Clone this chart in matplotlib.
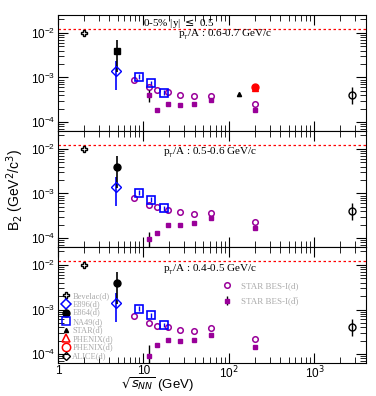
import numpy as np
import matplotlib.pyplot as plt
from matplotlib.ticker import LogLocator, NullFormatter

# collision energies
bes_x = [7.7, 11.5, 14.5, 19.6, 27, 39, 62.4, 200]
bes_xbar = [11.5, 14.5, 19.6, 27, 39, 62.4, 200]
na49_x = [8.8, 12.3, 17.3]

titles = ['p$_{_T}$/A : 0.6-0.7 GeV/c', 'p$_{_T}$/A : 0.5-0.6 GeV/c', 'p$_{_T}$/A : 0.4-0.5 GeV/c']

# STAR BES-I d and dbar per pT bin (top to bottom)
bes_d = [[8.8e-4, 6.0e-4, 5.3e-4, 4.7e-4, 4.0e-4, 3.8e-4, 3.9e-4, 2.5e-4],
         [7.8e-4, 5.5e-4, 4.9e-4, 4.3e-4, 3.8e-4, 3.5e-4, 3.7e-4, 2.3e-4],
         [7.0e-4, 5.0e-4, 4.3e-4, 4.1e-4, 3.5e-4, 3.3e-4, 3.9e-4, 2.2e-4]]
bes_dbar = [[4.0e-4, 1.9e-4, 2.6e-4, 2.4e-4, 2.5e-4, 3.1e-4, 1.9e-4],
            [9.5e-5, 1.3e-4, 2.0e-4, 2.0e-4, 2.2e-4, 2.8e-4, 1.7e-4],
            [9.0e-5, 1.6e-4, 2.1e-4, 2.0e-4, 2.1e-4, 2.7e-4, 1.45e-4]]
bes_dbar_err = [[1.2e-4, 0, 0, 0, 0, 0, 0],
                [4.5e-5, 0, 0, 0, 0, 0, 0],
                [7.0e-5, 0, 0, 0, 0, 0, 0]]

na49_d = [[1.05e-3, 7.5e-4, 4.6e-4],
          [1.05e-3, 7.3e-4, 4.7e-4],
          [1.05e-3, 7.5e-4, 4.5e-4]]

bevelac = [2.0, 1.0e-2]
e864 = [4.9, 4.0e-3, 3.0e-3, 2.7e-3]       # x, y, err up, err down
e896 = [4.8, 1.4e-3, 9.0e-4, 8.7e-4]
alice = [2760, 4.0e-4, 2.0e-4, 1.5e-4]
star_dbar = [130, 4.2e-4]
phenix_d = [200, 5.8e-4]
phenix_dbar = [200, 6.0e-4]

purple = '#990099'
grey = '#aaaaaa'
dbar = 'd\u0305'

fig = plt.figure(figsize=(3.76, 3.96), dpi=100)
lefts = 0.154
w = 0.819
h = 0.293
bottoms = [0.669, 0.376, 0.083]
title_pos = [(0.39, 0.83), (0.34, 0.81), (0.34, 0.80)]
axes = []
for i in range(3):
    ax = fig.add_axes([lefts, bottoms[i], w, h])
    axes.append(ax)
    ax.set_xscale('log')
    ax.set_yscale('log')
    ax.set_xlim(1, 4000)
    ax.set_ylim(6.3e-5, 2.5e-2)
    ax.axhline(1.2e-2, color='red', ls=(0, (2, 2)), lw=0.9)

    hb, = ax.plot(bevelac[0], bevelac[1], marker='P', mfc='none', mec='k', ms=5, ls='none')
    ax.errorbar(e896[0], e896[1], yerr=[[e896[3]], [e896[2]]], marker='D', mfc='none', mec='b',
                color='b', ms=5, ls='none', elinewidth=1.2)
    ax.errorbar(e864[0], e864[1], yerr=[[e864[3]], [e864[2]]], marker='s' if i == 0 else 'o',
                color='k', ms=5, ls='none', elinewidth=1.2)
    ax.errorbar(na49_x, na49_d[i], yerr=[v * 0.12 for v in na49_d[i]], marker='s', mfc='none',
                mec='b', color='b', ms=6, mew=1.2, ls='none', elinewidth=1)
    if i == 0:
        ax.plot(star_dbar[0], star_dbar[1], marker='^', color='k', ms=3, ls='none')
        ax.plot(phenix_d[0], phenix_d[1], marker='^', mfc='red', mec='red', ms=5, ls='none')
        ax.plot(phenix_dbar[0], phenix_dbar[1], marker='o', mfc='red', mec='red', ms=5, ls='none')
    ax.errorbar(alice[0], alice[1], yerr=[[alice[3]], [alice[2]]], marker='o', mfc='none', mec='k',
                color='k', ms=5, ls='none', elinewidth=1)

    h_d, = ax.plot(bes_x, bes_d[i], marker='o', mfc='none', mec=purple, ms=4, mew=1.1, ls='none')
    h_db = ax.errorbar(bes_xbar, bes_dbar[i], yerr=bes_dbar_err[i], marker='s', color=purple, ms=3,
                       ls='none', elinewidth=1, ecolor='k')

    ax.tick_params(which='both', direction='in', top=True, right=True, labelsize=8.5, pad=2)
    ax.tick_params(axis='x', pad=1)
    ax.tick_params(which='major', length=7)
    ax.tick_params(which='minor', length=4)
    ax.xaxis.set_minor_locator(LogLocator(base=10, subs=np.arange(2, 10)))
    ax.yaxis.set_minor_locator(LogLocator(base=10, subs=np.arange(2, 10)))
    ax.xaxis.set_minor_formatter(NullFormatter())
    ax.yaxis.set_minor_formatter(NullFormatter())
    ax.set_yticks([1e-4, 1e-3, 1e-2])
    for lab in ax.get_xticklabels() + ax.get_yticklabels():
        lab.set_family('Liberation Sans')
    if i < 2:
        ax.tick_params(labelbottom=False)
    ax.text(title_pos[i][0], title_pos[i][1], titles[i], transform=ax.transAxes, fontsize=8,
            va='center', family='Liberation Serif')

axes[0].text(0.276, 0.93, '0-5% |y| $\\leq$ 0.5', transform=axes[0].transAxes, fontsize=8,
             va='center', family='Liberation Serif')

ax = axes[2]
ax.set_xticks([1, 10, 100, 1000])
ax.set_xticklabels(['1', '10', '10$^2$', '10$^3$'], family='Liberation Sans')

# legend-only handles
h_star, = ax.plot([], [], marker='^', color='k', ms=3, ls='none')
h_phd, = ax.plot([], [], marker='^', mfc='none', mec='red', ms=6, mew=1.1, ls='none')
h_phdb, = ax.plot([], [], marker='o', mfc='none', mec='red', ms=6, mew=1.1, ls='none')
h_al, = ax.plot([], [], marker='D', mfc='none', mec='k', ms=4, ls='none')
h_896, = ax.plot([], [], marker='D', mfc='none', mec='b', ms=5, mew=1.1, ls='none')
h_864, = ax.plot([], [], marker='o', color='k', ms=5, ls='none')
h_na, = ax.plot([], [], marker='s', mfc='none', mec='b', ms=6, mew=1.1, ls='none')

leg_labels = ['Bevelac(d)', 'E896(d)', 'E864(' + dbar + ')', 'NA49(d)', 'STAR(' + dbar + ')',
              'PHENIX(d)', 'PHENIX(' + dbar + ')', 'ALICE(d)']
leg = ax.legend([hb, h_896, h_864, h_na, h_star, h_phd, h_phdb, h_al], leg_labels,
                loc='lower left', bbox_to_anchor=(-0.01, -0.035), frameon=False,
                handletextpad=0.3, labelspacing=0.05, handlelength=1.0, handleheight=0.5,
                borderpad=0.3, prop={'family': ['Liberation Serif', 'DejaVu Serif'], 'size': 6})
for t in leg.get_texts():
    t.set_color(grey)
ax.add_artist(leg)
leg2 = ax.legend([h_d, h_db], ['STAR BES-I(d)', 'STAR BES-I(' + dbar + ')'], loc='upper left',
                 bbox_to_anchor=(0.5, 0.77), frameon=False, labelspacing=0.8, handlelength=1.5,
                 handletextpad=0.8, prop={'family': ['Liberation Serif', 'DejaVu Serif'], 'size': 6.5})
for t in leg2.get_texts():
    t.set_color(grey)

fig.text(0.42, 0.004, '$\\sqrt{s_{NN}}$ (GeV)', fontsize=9.5, family='Liberation Sans',
         ha='center', va='bottom')
fig.text(0.04, 0.52, 'B$_2$ (GeV$^2$/c$^3$)', rotation=90, va='center', ha='center', fontsize=10,
         family='Liberation Sans')

plt.savefig('out.png', dpi=100)
